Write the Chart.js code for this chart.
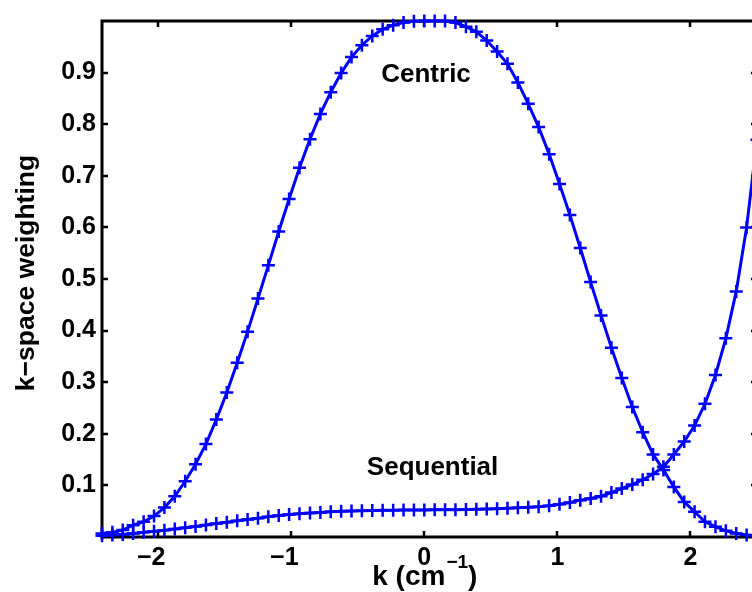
<!DOCTYPE html>
<html>
<head>
<meta charset="utf-8">
<script src="https://cdn.jsdelivr.net/npm/chart.js@4.4.1/dist/chart.umd.min.js"></script>
<style>
  html, body { margin: 0; padding: 0; background: #fff; overflow: hidden; }
  #wrap { width: 752px; height: 592px; overflow: hidden; position: relative; }
  canvas { position: absolute; left: 0; top: 0; }
</style>
</head>
<body>
<div id="wrap"><canvas id="c" width="770" height="592"></canvas></div>
<script>
// k-space sample positions (cm^-1)
const kValues = [
  -2.422, -2.344, -2.266, -2.188, -2.109, -2.031, -1.953, -1.875,
  -1.797, -1.719, -1.641, -1.563, -1.484, -1.406, -1.328, -1.250,
  -1.172, -1.094, -1.016, -0.938, -0.859, -0.781, -0.703, -0.625,
  -0.547, -0.469, -0.391, -0.313, -0.234, -0.156, -0.078, 0.000,
   0.078,  0.156,  0.234,  0.313,  0.391,  0.469,  0.547,  0.625,
   0.703,  0.781,  0.859,  0.938,  1.016,  1.094,  1.172,  1.250,
   1.328,  1.406,  1.484,  1.563,  1.641,  1.719,  1.797,  1.875,
   1.953,  2.031,  2.109,  2.188,  2.266,  2.344,  2.422,  2.500
];

// k-space weighting for centric ordering
const centric = [
  0.007, 0.009, 0.0135, 0.023, 0.0295, 0.0405, 0.057, 0.079,
  0.108, 0.141, 0.180, 0.2275, 0.280, 0.3375, 0.398, 0.462,
  0.5265, 0.592, 0.655, 0.7155, 0.771, 0.820, 0.862, 0.899,
  0.930, 0.953, 0.971, 0.984, 0.992, 0.997, 0.9995, 1.000,
  1.000, 1.000, 0.997, 0.989, 0.979, 0.962, 0.941, 0.917,
  0.881, 0.8395, 0.7945, 0.742, 0.684, 0.624, 0.560, 0.494,
  0.4295, 0.367, 0.308, 0.252, 0.203, 0.160, 0.130, 0.097,
  0.068, 0.049, 0.0295, 0.0199, 0.012, 0.007, 0.004, 0.002
];

// k-space weighting for sequential ordering
const sequential = [
  0.0025, 0.004, 0.005, 0.007, 0.009, 0.011, 0.013, 0.0157,
  0.0178, 0.0205, 0.0233, 0.026, 0.0285, 0.0315, 0.034, 0.0365,
  0.0394, 0.0415, 0.0434, 0.0452, 0.0466, 0.0477, 0.049, 0.0498,
  0.0505, 0.0508, 0.0513, 0.0517, 0.052, 0.0522, 0.0524, 0.0525,
  0.0526, 0.0528, 0.053, 0.0533, 0.0537, 0.0542, 0.0548, 0.0555,
  0.0565, 0.0575, 0.0587, 0.0604, 0.0636, 0.067, 0.0714, 0.0746,
  0.079, 0.086, 0.094, 0.1016, 0.111, 0.122, 0.136, 0.160,
  0.185, 0.216, 0.258, 0.314, 0.385, 0.476, 0.600, 0.770
];

const xTicks = [-2, -1, 0, 1, 2];
const yTicks = [0.1, 0.2, 0.3, 0.4, 0.5, 0.6, 0.7, 0.8, 0.9];

const FONT = '"Liberation Sans", Arial, Helvetica, sans-serif';
const BLUE = '#0000ff';

function series(values) {
  return values.map((v, i) => ({ x: kValues[i], y: v }));
}

function lineStyle() {
  return {
    borderColor: BLUE,
    backgroundColor: BLUE,
    borderWidth: 3,
    pointStyle: 'cross',
    pointRadius: 6.5,
    pointBorderWidth: 2.5,
    pointBorderColor: BLUE,
    pointHoverRadius: 6.5,
    tension: 0,
    fill: false,
    clip: false
  };
}

// axes box, inward tick marks, curve labels and axis titles
const frame = {
  id: 'frame',
  beforeDatasetsDraw(chart) {
    const { ctx, chartArea: a, scales: { x, y } } = chart;
    ctx.save();
    ctx.strokeStyle = '#000';
    ctx.lineWidth = 3;
    ctx.strokeRect(a.left, a.top, a.right - a.left, a.bottom - a.top);
    ctx.lineWidth = 2.5;
    ctx.beginPath();
    const len = 6;
    x.ticks.forEach(t => {
      const px = Math.round(x.getPixelForValue(t.value));
      ctx.moveTo(px, a.bottom); ctx.lineTo(px, a.bottom - len);
      ctx.moveTo(px, a.top); ctx.lineTo(px, a.top + len);
    });
    y.ticks.forEach(t => {
      const py = Math.round(y.getPixelForValue(t.value));
      ctx.moveTo(a.left, py); ctx.lineTo(a.left + len, py);
      ctx.moveTo(a.right, py); ctx.lineTo(a.right - len, py);
    });
    ctx.stroke();
    ctx.restore();
  },
  afterDatasetsDraw(chart, args, opts) {
    const { ctx, chartArea: a, scales: { x, y } } = chart;
    ctx.save();
    ctx.fillStyle = '#000';
    ctx.font = 'bold 26px ' + FONT;
    ctx.textAlign = 'center';
    ctx.textBaseline = 'alphabetic';
    opts.notes.forEach(n => {
      ctx.fillText(n.text, x.getPixelForValue(n.k), y.getPixelForValue(n.w));
    });

    // y-axis title
    ctx.save();
    ctx.font = 'bold 26.5px ' + FONT;
    ctx.translate(opts.yTitleX, (a.top + a.bottom) / 2 - 6);
    ctx.rotate(-Math.PI / 2);
    ctx.textBaseline = 'middle';
    ctx.fillText('k\u2212space weighting', 0, 0);
    ctx.restore();

    // x-axis title with superscript unit
    const main = 'k (cm', sup = '\u22121', tail = ')';
    const bigFont = 'bold 28px ' + FONT, smallFont = 'bold 19px ' + FONT;
    ctx.font = bigFont;
    const w1 = ctx.measureText(main).width;
    const w3 = ctx.measureText(tail).width;
    ctx.font = smallFont;
    const w2 = ctx.measureText(sup).width;
    const total = w1 + w2 + w3;
    const cx = x.getPixelForValue(0);
    const sx = cx - total / 2;
    const base = opts.xTitleBaseline;
    ctx.textAlign = 'left';
    ctx.font = bigFont;
    ctx.fillText(main, sx, base);
    ctx.font = smallFont;
    ctx.fillText(sup, sx + w1 + 1, base - 17);
    ctx.font = bigFont;
    ctx.fillText(tail, sx + w1 + w2 + 1, base);
    ctx.restore();
  }
};

new Chart(document.getElementById('c'), {
  type: 'line',
  data: {
    datasets: [
      Object.assign({ label: 'Centric', data: series(centric) }, lineStyle()),
      Object.assign({ label: 'Sequential', data: series(sequential) }, lineStyle())
    ]
  },
  options: {
    responsive: false,
    devicePixelRatio: 1,
    animation: false,
    events: [],
    layout: { padding: { left: 0, right: 13, top: 18, bottom: 0 }, autoPadding: false },
    plugins: {
      legend: { display: false },
      tooltip: { enabled: false },
      frame: {
        notes: [
          { text: 'Centric', k: 0.013, w: 0.882 },
          { text: 'Sequential', k: 0.062, w: 0.1195 }
        ],
        yTitleX: 27,
        xTitleBaseline: 585
      }
    },
    scales: {
      x: {
        type: 'linear',
        min: -2.422,
        max: 2.5,
        afterBuildTicks: s => { s.ticks = xTicks.map(v => ({ value: v })); },
        afterFit: s => { s.height = 55; },
        grid: { display: false, drawTicks: false },
        border: { display: false },
        ticks: {
          padding: 6,
          color: '#000',
          font: { family: FONT, size: 25, weight: 'bold' },
          maxRotation: 0,
          callback: v => v < 0 ? '\u2212' + Math.abs(v) + '  ' : String(v)
        }
      },
      y: {
        type: 'linear',
        min: 0,
        max: 1,
        afterBuildTicks: s => { s.ticks = yTicks.map(v => ({ value: v })); },
        afterFit: s => { s.width = 102; },
        grid: { display: false, drawTicks: false },
        border: { display: false },
        ticks: {
          padding: 6,
          color: '#000',
          font: { family: FONT, size: 25, weight: 'bold' },
          callback: v => v.toFixed(1)
        }
      }
    }
  },
  plugins: [frame]
});
</script>
</body>
</html>
